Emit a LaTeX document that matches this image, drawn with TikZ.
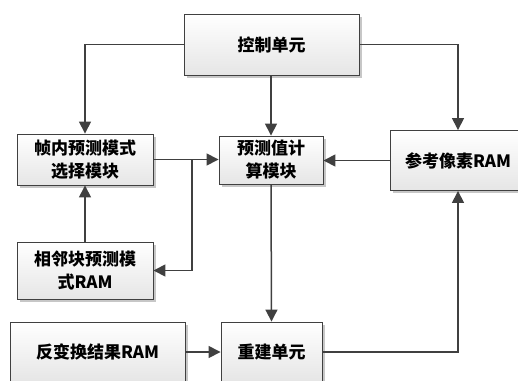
\documentclass[tikz,border=0pt]{standalone}
\usepackage{fontspec}
\newfontfamily\cjk{Noto Sans CJK SC}
\usetikzlibrary{arrows.meta,shadows}
\definecolor{edge}{HTML}{404040}
\tikzset{
  blk/.style={draw=edge, line width=0.9pt, top color=white, bottom color=black!10,
    drop shadow={shadow xshift=2.5pt, shadow yshift=-2.5pt, fill=black!22, opacity=1},
    align=center, inner sep=0pt,
    font=\cjk\bfseries\fontsize{17}{23}\selectfont},
  arr/.style={draw=edge, line width=1.5pt, -{Triangle[length=12pt,width=12pt]}},
  ln/.style={draw=edge, line width=1.5pt}
}
\begin{document}
\begin{tikzpicture}[x=1pt,y={(0pt,-1pt)}]
\useasboundingbox (0,0) rectangle (518,380);
\begin{scope}
\clip (0,0) rectangle (518,380);
\node[blk, minimum width=175pt, minimum height=61pt] (ctrl) at (271.5,44.5) {控制单元};
\node[blk, minimum width=136pt, minimum height=51pt] (intra) at (85,159.5) {帧内预测模式\\选择模块};
\node[blk, minimum width=104pt, minimum height=48pt] (pred) at (271,160) {预测值计\\算模块};
\node[blk, minimum width=136pt, minimum height=60pt] (ref) at (458,160.5) {参考像素RAM};
\node[blk, minimum width=136pt, minimum height=57pt] (nbr) at (85,270.5) {相邻块预测模\\式RAM};
\node[blk, minimum width=175pt, minimum height=60pt] (inv) at (97.5,352) {反变换结果RAM};
\node[blk, minimum width=101pt, minimum height=60pt] (recon) at (271.5,352) {重建单元};
\coordinate (br) at (192,160);

\draw[arr] (ctrl.west) -| (intra.north);
\draw[arr] (ctrl.south -| pred.north) -- (pred.north);
\draw[arr] (ctrl.east) -| (ref.north);
\draw[arr] (intra.east) -- (intra.east -| pred.west);
\draw[arr] (br) |- (nbr.east);
\draw[arr] (nbr.north) -- (intra.south);
\draw[arr] (ref.west) -- (ref.west -| pred.east);
\draw[arr] (pred.south) -- (recon.north);
\draw[arr] (inv.east) -- (recon.west);
\draw[arr] (recon.east) -| (ref.south);
\end{scope}
\end{tikzpicture}
\end{document}
